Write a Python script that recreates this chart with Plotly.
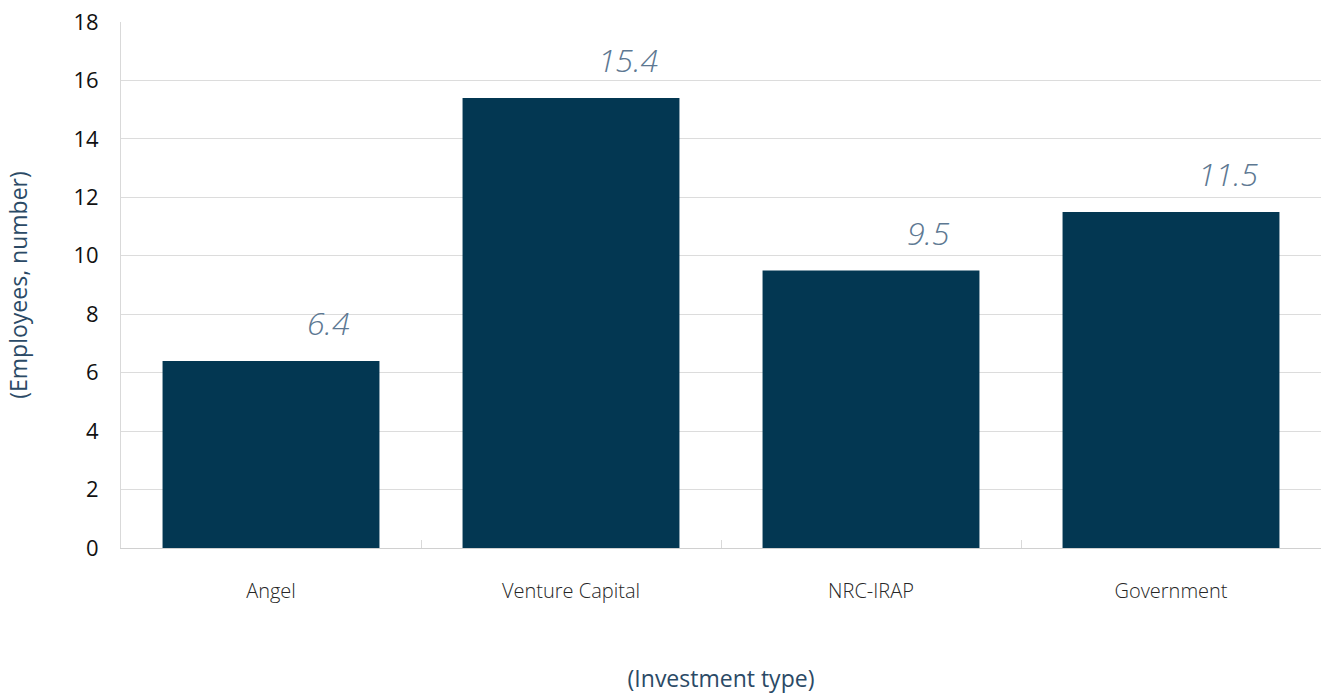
import plotly.graph_objects as go

categories = ["Angel", "Venture Capital", "NRC-IRAP", "Government"]
values = [6.4, 15.4, 9.5, 11.5]
labels = ["6.4", "15.4", "9.5", "11.5"]
y_ticks = [0, 2, 4, 6, 8, 10, 12, 14, 16, 18]

fig = go.Figure()
fig.add_trace(go.Bar(x=categories, y=values, marker=dict(color="#033752", line=dict(width=0)),
                     hoverinfo="skip"))

for c, v, t in zip(categories, values, labels):
    fig.add_annotation(x=c, y=v, text=t, showarrow=False, xshift=57, yshift=38,
                       yanchor="middle",
                       font=dict(family="Open Sans", size=32, color="#5d7892", style="italic", weight=300))

fig.update_layout(
    width=1323, height=694,
    margin=dict(l=121, r=2, t=22, b=146),
    paper_bgcolor="white", plot_bgcolor="white",
    bargap=0.277,
    showlegend=False,
    xaxis=dict(
        showgrid=False, showline=True, linecolor="#d0d0d0", linewidth=1,
        ticks="inside", tickson="boundaries", ticklen=8, tickcolor="#d9d9d9",
        ticklabelstandoff=25,
        tickfont=dict(family="Open Sans", size=20, color="#262626", weight=300),
        title=dict(text="(Investment type)", standoff=69,
                   font=dict(family="Open Sans", size=23, color="#2b4a66")),
    ),
    yaxis=dict(
        range=[0, 18], tickvals=y_ticks,
        showgrid=True, gridcolor="#dcdcdc", gridwidth=1,
        showline=True, linecolor="#d9d9d9", linewidth=1,
        zeroline=False, ticks="", ticklabelstandoff=17,
        tickfont=dict(family="Open Sans", size=22, color="#111111"),
        title=dict(text="(Employees, number)", standoff=39,
                   font=dict(family="Open Sans", size=23, color="#2b4a66")),
    ),
)

fig.write_html("out.html")
